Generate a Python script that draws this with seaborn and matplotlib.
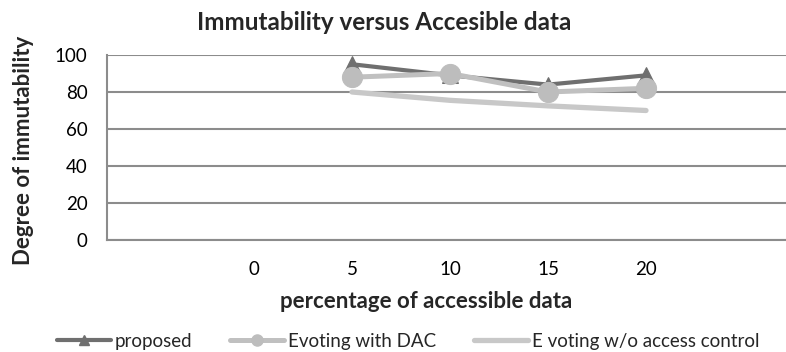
import matplotlib
matplotlib.use("Agg")
import matplotlib.pyplot as plt
from matplotlib.lines import Line2D
import seaborn as sns
import pandas as pd

# Category axis: padded with empty slots at both ends
categories = ["", "0", "5", "10", "15", "20", ""]
data_categories = ["5", "10", "15", "20"]

proposed = [95, 89, 84, 89]
evoting_dac = [88, 90, 80, 82]
evoting_no_ac = [80, 75.5, 72.5, 70]

series_names = ["proposed", "Evoting with DAC", "E voting w/o access control"]

sns.set_theme(style="white")
plt.rcParams["font.family"] = ["Lato", "DejaVu Sans"]

pos = {c: i for i, c in enumerate(categories) if c}
df = pd.DataFrame({
    "x": [pos[c] for c in data_categories] * 3,
    "value": proposed + evoting_dac + evoting_no_ac,
    "series": [series_names[0]] * 4 + [series_names[1]] * 4 + [series_names[2]] * 4,
})

fig = plt.figure(figsize=(7.86, 3.52), dpi=100)
ax = fig.add_axes([107 / 786, 1 - 240 / 352, 686 / 786, 185 / 352])

grid_col = "#8c8c8c"
styles = {
    series_names[0]: dict(color="#6f6f6f", lw=3.0, marker="^", ms=11, mec="#6f6f6f", mfc="#6f6f6f"),
    series_names[1]: dict(color="#c0c0c0", lw=3.6, marker="o", ms=14.5, mec="#bdbdbd", mfc="#bdbdbd"),
    series_names[2]: dict(color="#c8c8c8", lw=3.8, marker=None),
}
for i, name in enumerate(series_names):
    st = styles[name]
    sub = df[df["series"] == name]
    kw = dict(color=st["color"], linewidth=st["lw"], solid_capstyle="round", zorder=3 + i)
    if st["marker"]:
        kw.update(marker=st["marker"], markersize=st["ms"], markeredgecolor=st["mec"],
                  markerfacecolor=st["mfc"])
    sns.lineplot(data=sub, x="x", y="value", ax=ax, legend=False, **kw)

ax.set_xlim(-0.5, len(categories) - 0.5)
ax.set_ylim(0, 100)
ax.set_yticks(range(0, 101, 20))
ax.set_xticks(range(len(categories)))
ax.set_xticklabels(categories)
ax.yaxis.grid(True, color=grid_col, linewidth=1.5)
ax.set_axisbelow(True)
for s in ["top", "right"]:
    ax.spines[s].set_visible(False)
ax.spines["left"].set_color(grid_col)
ax.spines["left"].set_linewidth(1.5)
ax.spines["bottom"].set_color(grid_col)
ax.spines["bottom"].set_linewidth(1.5)
ax.tick_params(axis="both", length=0, labelsize=13.5, colors="black")
ax.tick_params(axis="x", pad=15)
ax.tick_params(axis="y", pad=14)
ax.set_xlabel("")
ax.set_ylabel("")

fig.text(384 / 786, 1 - 23 / 352, "Immutability versus Accesible data",
         ha="center", va="center", fontsize=17.5, fontweight="bold")
fig.text(426 / 786, 1 - 302 / 352, "percentage of accessible data",
         ha="center", va="center", fontsize=16, fontweight="bold")
fig.text(24 / 786, 1 - 150 / 352, "Degree of immutability",
         ha="center", va="center", rotation=90, fontsize=16, fontweight="bold")

handles = [
    Line2D([], [], color="#6f6f6f", lw=3.0, marker="^", ms=7, mfc="#6f6f6f", mec="#6f6f6f"),
    Line2D([], [], color="#c0c0c0", lw=3.6, marker="o", ms=8, mfc="#bdbdbd", mec="#bdbdbd"),
    Line2D([], [], color="#c8c8c8", lw=3.8),
]
fig.legend(handles, series_names, loc="center", bbox_to_anchor=(408 / 786, 1 - 341 / 352),
           ncol=3, frameon=False, fontsize=13.5, handlelength=2.9, handletextpad=0.2,
           columnspacing=2.0, borderaxespad=0, borderpad=0)

fig.savefig("out.png", dpi=100)
